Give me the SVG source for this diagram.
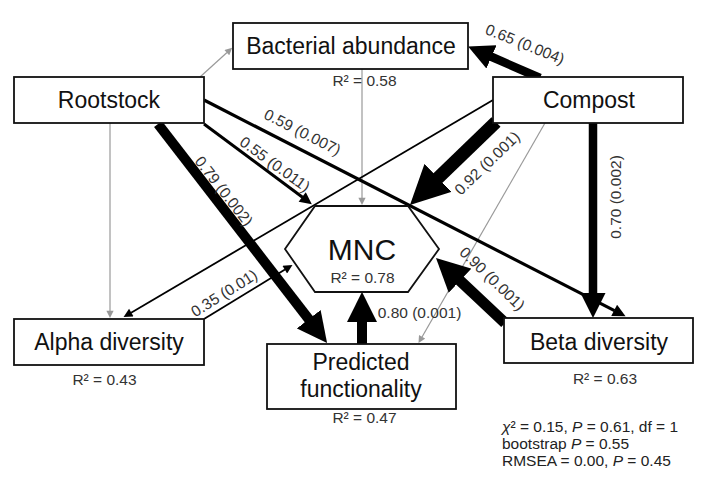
<svg xmlns="http://www.w3.org/2000/svg" width="703" height="477" viewBox="0 0 703 477">
<style>
.box{fill:#fff;stroke:#111;stroke-width:1.8}
.nt{font-family:"Liberation Sans",Arial,sans-serif;font-size:23px;fill:#111;text-anchor:middle}
.r2{font-family:"Liberation Sans",Arial,sans-serif;font-size:15.5px;fill:#333;text-anchor:middle}
.el{font-family:"Liberation Sans",Arial,sans-serif;font-size:15.5px;fill:#333;text-anchor:middle}
.st{font-family:"Liberation Sans",Arial,sans-serif;font-size:15.5px;fill:#222}
.k{stroke:#000;fill:none}
.g{stroke:#999;stroke-width:1.2;fill:none}
</style>
<defs>
<marker id="hb" viewBox="0 0 10 10" markerWidth="3" markerHeight="3" refX="0.3" refY="5" orient="auto"><path d="M0,0 L10,5 L0,10 z" fill="#000"/></marker>
<marker id="hm" viewBox="0 0 10 10" markerWidth="4.5" markerHeight="4" refX="0.3" refY="5" orient="auto"><path d="M0,0 L10,5 L0,10 z" fill="#000"/></marker>
<marker id="ht" viewBox="0 0 10 10" markerWidth="6" markerHeight="5" refX="0.3" refY="5" orient="auto"><path d="M0,0 L10,5 L0,10 z" fill="#000"/></marker>
<marker id="hg" viewBox="0 0 10 10" markerWidth="7" markerHeight="6" refX="0.3" refY="5" orient="auto"><path d="M0,0 L10,5 L0,10 z" fill="#999"/></marker>
</defs>
<rect width="703" height="477" fill="#fff"/>
<g id="connectors">
<line class="g" x1="200" y1="77" x2="227" y2="52.5" marker-end="url(#hg)"/>
<line class="g" x1="110" y1="123" x2="110" y2="310.9" marker-end="url(#hg)"/>
<line class="g" x1="362" y1="69" x2="362" y2="197.9" marker-end="url(#hg)"/>
<line class="g" x1="545" y1="123" x2="422" y2="337" marker-end="url(#hg)"/>
<line class="k" stroke-width="1.8" x1="493" y1="100" x2="131.1" y2="312.7" marker-end="url(#ht)"/>
<line class="k" stroke-width="1.8" x1="204" y1="319" x2="285" y2="269.5" marker-end="url(#ht)"/>
<line class="k" stroke-width="3" x1="204" y1="124" x2="302.5" y2="197.2" marker-end="url(#hm)"/>
<line class="k" stroke-width="3.2" x1="204" y1="100" x2="614.5" y2="310.6" marker-end="url(#hm)"/>
<line class="k" stroke-width="8.5" x1="540" y1="78" x2="490.8" y2="56.5" marker-end="url(#hb)"/>
<line class="k" stroke-width="10" x1="158" y1="124" x2="309.3" y2="319.9" marker-end="url(#hb)"/>
<line class="k" stroke-width="13" x1="496" y1="122" x2="437.2" y2="178.7" marker-end="url(#hb)"/>
<line class="k" stroke-width="8.5" x1="593" y1="123" x2="593" y2="293.3" marker-end="url(#hb)"/>
<line class="k" stroke-width="11" x1="505" y1="323" x2="459.3" y2="280" marker-end="url(#hb)"/>
<line class="k" stroke-width="10" x1="362" y1="345" x2="362" y2="321" marker-end="url(#hb)"/>
<text class="el" transform="translate(525,44) rotate(22)" y="5.5">0.65 (0.004)</text>
<text class="el" transform="translate(302.5,132) rotate(27)" y="5.5">0.59 (0.007)</text>
<text class="el" transform="translate(275,164) rotate(36)" y="5.5">0.55 (0.011)</text>
<text class="el" transform="translate(224,191) rotate(52)" y="5.5">0.79 (0.002)</text>
<text class="el" transform="translate(487,163) rotate(-44)" y="5.5">0.92 (0.001)</text>
<text class="el" transform="translate(492.5,278.5) rotate(44)" y="5.5">0.90 (0.001)</text>
<text class="el" transform="translate(224,293) rotate(-32)" y="5.5">0.35 (0.01)</text>
<text class="el" transform="translate(615,197) rotate(-90)" y="5.5">0.70 (0.002)</text>
<text class="el" x="419.5" y="318">0.80 (0.001)</text>
</g>
<g id="bacterial">
<rect class="box" x="233" y="23" width="235" height="46"/>
<text class="nt" x="351" y="54">Bacterial abundance</text>
<text class="r2" x="364.5" y="86">R² = 0.58</text>
</g>
<g id="rootstock">
<rect class="box" x="14" y="77" width="190" height="46"/>
<text class="nt" x="109" y="108">Rootstock</text>
</g>
<g id="compost">
<rect class="box" x="493" y="77" width="190" height="46"/>
<text class="nt" x="589" y="107.5">Compost</text>
</g>
<g id="mnc">
<polygon class="box" points="315,206 408,206 439,249 408,292 315,292 285,249"/>
<text class="nt" x="362" y="260" style="font-size:30px">MNC</text>
<text class="r2" x="362.5" y="283">R² = 0.78</text>
</g>
<g id="alpha">
<rect class="box" x="14" y="319" width="190" height="46"/>
<text class="nt" x="109" y="350">Alpha diversity</text>
<text class="r2" x="104.5" y="385">R² = 0.43</text>
</g>
<g id="predicted">
<rect class="box" x="267" y="344" width="189" height="65"/>
<text class="nt" x="361" y="370">Predicted</text>
<text class="nt" x="361" y="397">functionality</text>
<text class="r2" x="364.5" y="423">R² = 0.47</text>
</g>
<g id="beta">
<rect class="box" x="504" y="318" width="189" height="45"/>
<text class="nt" x="599" y="350">Beta diversity</text>
<text class="r2" x="605" y="384">R² = 0.63</text>
</g>
<g id="stats">
<text class="st" x="502" y="432"><tspan font-style="italic">χ</tspan>² = 0.15, <tspan font-style="italic">P</tspan> = 0.61, df = 1</text>
<text class="st" x="502" y="449">bootstrap <tspan font-style="italic">P</tspan> = 0.55</text>
<text class="st" x="502" y="466">RMSEA = 0.00, <tspan font-style="italic">P</tspan> = 0.45</text>
</g>
</svg>
